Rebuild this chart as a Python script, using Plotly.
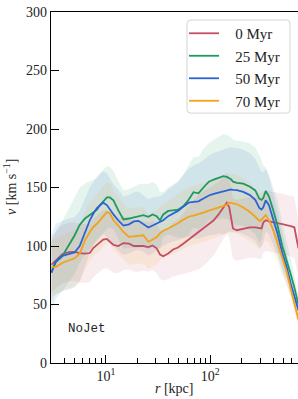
import plotly.graph_objects as go

# ---- data ----
r_kpc = [3.0, 3.3, 3.8, 4.5, 5.0, 5.6, 6.3, 7.0, 7.6, 8.2, 8.8, 9.4, 10.2, 10.9, 11.8, 13.1, 14.7, 16.6,
         18.5, 20.5, 22.8, 25.5, 28.0, 30.6, 33.0, 35.4, 39.5, 44.0, 49.0, 55.0, 62.0, 69.0, 77.0, 86.0,
         97.0, 108, 120, 133, 144, 152, 158, 165, 180, 207, 240, 270, 295, 310, 322, 340, 365, 400, 440,
         490, 540, 590, 640, 675, 700]

v_0myr = [84, 88, 93, 95, 95, 94, 93.5, 94, 98.5, 101, 103.5, 105.5, 106, 103.5, 101, 100, 102.5, 102,
          100, 100, 100, 99, 100.5, 98, 92.7, 91.3, 93.6, 97, 98.7, 102, 105.5, 108.5, 112, 115,
          118.5, 122, 127, 133, 137, 133, 124, 115, 113.5, 115, 116, 116, 115, 115, 120, 122, 121, 120.5, 119.5,
          118.6, 118, 117, 116, 104, 98]
v_25myr = [78, 86, 91, 102, 109, 118, 123.5, 126.5, 128.5, 131, 135, 137.7, 141.5, 141.5, 139, 130.6, 122.7, 123.5,
           124.5, 125.5, 126.3, 125, 127, 125.5, 122, 127, 130, 130.5, 131, 134, 139.5, 146, 145, 150,
           155, 156.8, 158, 159.7, 159, 158, 157, 155, 154, 153.3, 150.6, 147.5, 140.5, 139.5, 141, 147, 142.5, 131, 118,
           100, 88.5, 76, 64.5, 55.5, 50]
v_50myr = [77, 87, 91.5, 93, 94.5, 100, 112, 122, 128, 132.5, 135, 137, 135, 131, 127, 122, 117.5, 118.5,
           121, 121.5, 119, 115.8, 117.5, 119.2, 120.5, 122, 125.5, 127.5, 130, 133.5, 137, 137.7, 138.2, 140.6,
           143.2, 144.5, 145.6, 146.3, 147.5, 148.3, 148.3, 148, 147.7, 146.3, 143.5, 139.5, 132.5, 131.2, 133, 139, 135, 123, 111,
           94, 82, 68, 57, 49, 45]
v_70myr = [82, 82, 85.5, 88, 89.5, 93.5, 105, 112, 116.5, 119, 122, 125.5, 129, 128, 122, 117.5, 112, 107.8,
           108.5, 109, 109.2, 103.5, 105.5, 107.5, 111, 113, 115, 117, 119.5, 122.5, 125, 126, 127, 128.6,
           130.3, 131.8, 133, 134.3, 135.2, 136.8, 137, 136.5, 135.7, 132.9, 129, 125, 121.4, 122.5, 124, 126.3, 122, 114, 103,
           89, 78, 63.5, 51.5, 42, 37]

s_0myr = [24, 24, 25, 25, 25, 25, 25, 25, 25, 25, 25, 25, 25, 24, 24, 23, 23, 22,
          22, 22, 21, 21, 21, 21, 21, 21, 22, 23, 24, 26, 28, 30, 32, 32,
          31, 30, 28, 27, 26, 26, 26, 26, 26, 26, 26, 26, 26, 26, 26, 26, 26, 26, 26,
          26, 26, 26, 26, 24, 22]
s_25myr = [25, 27, 30, 32, 33, 32, 30, 29, 28, 27, 27, 27, 27, 26, 25, 25, 25, 25,
           26, 27, 27, 28, 28, 27, 24, 19, 20, 22, 24, 27, 30, 30, 31, 33,
           33, 34, 35, 36, 36, 36, 36, 36, 36, 36, 37, 37, 37, 34, 28, 20, 18, 20, 22,
           20, 16, 13, 10, 8, 7]
s_50myr = [33, 32, 30, 30, 30, 30, 29, 28, 27, 27, 27, 27, 27, 27, 26, 26, 25, 25,
           25, 25, 24, 24, 24, 23, 22, 22, 23, 24, 25, 27, 29, 31, 32, 33,
           34, 35, 35, 36, 36, 36, 36, 36, 36, 36, 36, 35, 34, 32, 30, 27, 25, 22, 19,
           16, 13, 10, 8, 7, 6]
s_70myr = [24, 24, 24, 24, 24, 25, 25, 25, 25, 25, 26, 26, 26, 26, 25, 25, 24, 24,
           24, 24, 24, 23, 23, 23, 23, 23, 23, 24, 24, 25, 25, 25, 25, 25,
           25, 25, 25, 25, 25, 25, 25, 25, 25, 25, 25, 24, 24, 23, 22, 21, 20, 18, 16,
           14, 12, 10, 8, 7, 6]

labels = ["0 Myr", "25 Myr", "50 Myr", "70 Myr"]
colors = ["#c44e64", "#1c9a62", "#2a63d6", "#f0a31c"]
fill_rgba = ["rgba(196,78,100,0.11)", "rgba(28,154,98,0.11)", "rgba(42,99,214,0.11)", "rgba(240,163,28,0.11)"]
means = [v_0myr, v_25myr, v_50myr, v_70myr]
spreads = [s_0myr, s_25myr, s_50myr, s_70myr]

x_major = [10, 100]
x_major_text = ["10<sup>1</sup>", "10<sup>2</sup>"]
x_minor = [4, 5, 6, 7, 8, 9, 20, 30, 40, 50, 60, 70, 80, 90, 200, 300, 400, 500, 600]
y_ticks = [0, 50, 100, 150, 200, 250, 300]

fig = go.Figure()

for m, s, fc in zip(means, spreads, fill_rgba):
    hi = [a + b for a, b in zip(m, s)]
    lo = [a - b for a, b in zip(m, s)]
    fig.add_trace(go.Scatter(
        x=r_kpc + r_kpc[::-1], y=hi + lo[::-1], fill="toself", fillcolor=fc,
        line=dict(width=0, color="rgba(0,0,0,0)"), mode="lines",
        showlegend=False, hoverinfo="skip"))

pad = "\u00a0\u00a0\u00a0"
for m, lab, c in zip(means, labels, colors):
    fig.add_trace(go.Scatter(
        x=r_kpc, y=m, mode="lines", name=pad + lab,
        line=dict(color=c, width=1.8)))

serif = "Liberation Serif, Times New Roman, serif"

fig.add_annotation(text="NoJet", xref="paper", yref="paper", x=0.06, y=0.096,
                   xanchor="left", yanchor="middle", showarrow=False,
                   font=dict(family="Liberation Mono, DejaVu Sans Mono, monospace", size=12.5, color="#222"))
# axis titles as annotations for exact placement
fig.add_annotation(text="<i>r</i> [kpc]", xref="paper", yref="paper", x=0.5, y=-0.072,
                   xanchor="center", yanchor="middle", showarrow=False,
                   font=dict(family=serif, size=14, color="#222"))
fig.add_annotation(text="<i>v</i> [km s<sup>−1</sup>]", xref="paper", yref="paper", x=-0.168, y=0.5,
                   xanchor="center", yanchor="middle", showarrow=False, textangle=-90,
                   font=dict(family=serif, size=14, color="#222"))

# rounded legend frame (paper coords)
lx0, lx1, ly0, ly1 = 0.5506, 0.9676, 0.712, 0.9772
rx, ry = 0.014, 0.010
frame = (f"M {lx0+rx},{ly1} L {lx1-rx},{ly1} Q {lx1},{ly1} {lx1},{ly1-ry} "
         f"L {lx1},{ly0+ry} Q {lx1},{ly0} {lx1-rx},{ly0} L {lx0+rx},{ly0} Q {lx0},{ly0} {lx0},{ly0+ry} "
         f"L {lx0},{ly1-ry} Q {lx0},{ly1} {lx0+rx},{ly1} Z")
fig.add_shape(type="path", path=frame, xref="paper", yref="paper", layer="above",
              fillcolor="rgba(255,255,255,0.85)", line=dict(color="#d4d4d4", width=1))

fig.update_layout(
    width=298, height=399,
    margin=dict(l=51, r=0, t=12, b=36, autoexpand=False),
    paper_bgcolor="white", plot_bgcolor="white",
    font=dict(family=serif, size=15, color="#222"),
    showlegend=True,
    legend=dict(x=0.5385, y=0.9857, xanchor="left", yanchor="top",
                bgcolor="rgba(0,0,0,0)", borderwidth=0,
                font=dict(family=serif, size=15, color="#222"),
                tracegroupgap=0, itemwidth=30),
    xaxis=dict(type="log", range=[0.473, 2.841], automargin=False,
               tickmode="array", tickvals=x_major, ticktext=x_major_text,
               ticks="inside", ticklen=8, tickwidth=1.1, tickcolor="black",
               showline=True, linecolor="black", linewidth=1.2, mirror=True,
               showgrid=False, zeroline=False,
               minor=dict(tickmode="array", tickvals=x_minor, ticks="inside", ticklen=4.5,
                          tickwidth=1, tickcolor="black", showgrid=False),
               tickfont=dict(family=serif, size=14)),
    yaxis=dict(range=[0, 300], tickmode="array", tickvals=y_ticks, automargin=False,
               ticks="inside", ticklen=8, tickwidth=1.1, tickcolor="black",
               showline=True, linecolor="black", linewidth=1.2,
               showgrid=False, zeroline=False,
               tickfont=dict(family=serif, size=14)),
)

fig.write_html("out.html", config={"displayModeBar": False},
               post_script="document.body.style.margin='0px';document.body.style.padding='0px';")
